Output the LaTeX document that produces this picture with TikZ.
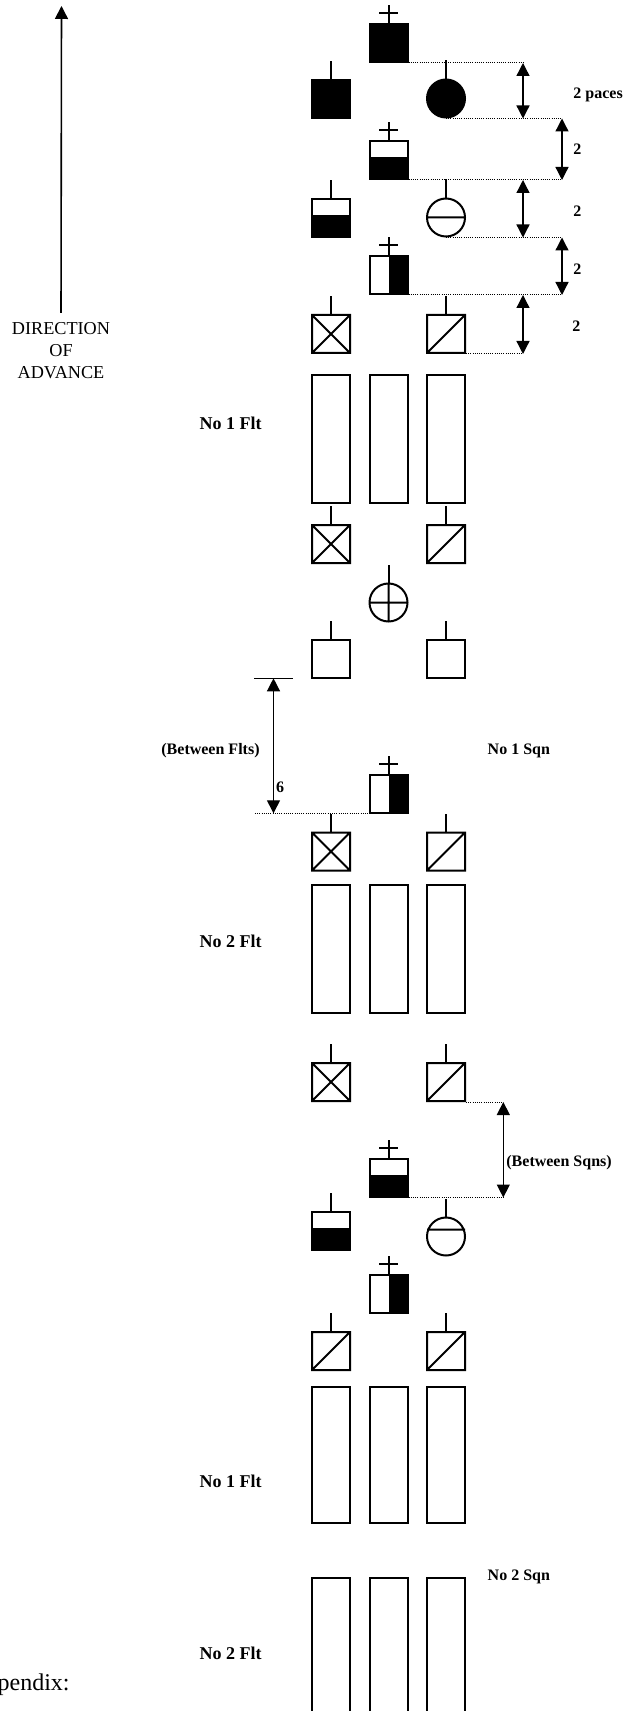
\documentclass[tikz,border=0pt]{standalone}
\usepackage{fontspec}
\setmainfont{Liberation Serif}
\usetikzlibrary{arrows.meta}

% symbols, #1 #2 = centre of the symbol (pixel units)
\newcommand{\symstem}[2]{\draw[sym] (#1,#2-19) -- (#1,#2-38);}
\newcommand{\symflag}[2]{\draw[sym] (#1,#2-19) -- (#1,#2-38) (#1-9.5,#2-30) -- (#1+9.5,#2-30);}
\newcommand{\symplain}[2]{\draw[sym] (#1-19,#2-19) rectangle (#1+19,#2+19);}
\newcommand{\symsolid}[2]{\draw[sym,fill=black] (#1-19,#2-19) rectangle (#1+19,#2+19);}
\newcommand{\symcross}[2]{\draw[sym] (#1-19,#2-19) rectangle (#1+19,#2+19)
  (#1-19,#2-19) -- (#1+19,#2+19) (#1-19,#2+19) -- (#1+19,#2-19);}
\newcommand{\symdiag}[2]{\draw[sym] (#1-19,#2-19) rectangle (#1+19,#2+19)
  (#1-19,#2+19) -- (#1+19,#2-19);}
\newcommand{\symlower}[2]{\fill (#1-19,#2-2.5) rectangle (#1+19,#2+19);
  \draw[sym] (#1-19,#2-19) rectangle (#1+19,#2+19);}
\newcommand{\symright}[2]{\fill (#1,#2-19) rectangle (#1+19,#2+19);
  \draw[sym] (#1-19,#2-19) rectangle (#1+19,#2+19);}
\newcommand{\symdot}[2]{\draw[sym,fill=black] (#1,#2) circle (9.5pt);}
\newcommand{\symbar}[3][0]{\draw[sym] (#2,#3) circle (9.5pt) (#2-19,#3+#1) -- (#2+19,#3+#1);}
\newcommand{\symplus}[2]{\draw[sym] (#1,#2) circle (9.5pt) (#1-19,#2) -- (#1+19,#2) (#1,#2-19) -- (#1,#2+19);}

\begin{document}
\begin{tikzpicture}[x=0.5pt,y=-0.5pt,
  sym/.style={line width=1pt},
  guide/.style={line width=0.5pt,dash pattern=on 0.5pt off 0.6pt},
  dim/.style={line width=0.65pt,<->},
  >={Triangle[length=6.5pt,width=6.5pt]},
  lbl/.style={font=\bfseries\fontsize{8}{9.6}\selectfont,inner sep=0pt,anchor=base west},
  flt/.style={font=\bfseries\fontsize{9}{10.8}\selectfont,inner sep=0pt,anchor=base west}]
\useasboundingbox (0,0) rectangle (623,1711);
\clip (0,0) rectangle (623,1711);

% Direction of advance
\node[align=center,font=\fontsize{9.1}{11}\selectfont,inner sep=0pt,anchor=north] (dir) at (61,322) {DIRECTION\\OF\\ADVANCE};
\coordinate (front) at (61.5,6);
\draw[line width=0.8pt,->,shorten <=4.5pt] (dir.north) -- (front);

% Leading party
\symflag{388.5}{43} \symsolid{388.5}{43}
\symstem{331}{99} \symsolid{331}{99}
\symstem{446}{98.5} \symdot{446}{98.5}
\symflag{388.5}{160} \symlower{388.5}{160}
\symstem{331}{218} \symlower{331}{218}
\symstem{446}{217.5} \symbar{446}{217.5}
\symflag{388.5}{275} \symright{388.5}{275}
\symstem{331}{334} \symcross{331}{334}
\symstem{446}{334} \symdiag{446}{334}

% Distances in paces
\draw[guide] (408.5,63) -- (523,63);
\draw[dim] (523,63) -- (523,118.5);
\draw[guide] (446,118.5) -- (562,118.5);
\node[lbl] (pacesA) at (573,98.3) {2 paces};
\draw[dim] (562,118.5) -- (562,180);
\draw[guide] (408.5,180) -- (562,180);
\node[lbl] (pacesB) at (573,155) {2};
\draw[dim] (523,180) -- (523,237.5);
\draw[guide] (446,237.5) -- (562,237.5);
\node[lbl] (pacesC) at (573,216.7) {2};
\draw[dim] (562,237.5) -- (562,295);
\draw[guide] (408.5,295) -- (562,295);
\node[lbl] (pacesD) at (573,275) {2};
\draw[dim] (523,295) -- (523,354);
\draw[guide] (466,354) -- (523,354);
\node[lbl] (pacesE) at (572,331.7) {2};

% No 1 Sqn, No 1 Flt
\foreach \cx in {331,388.5,446}
  \draw[sym] (\cx-19,375) rectangle (\cx+19,503);
\node[flt] (fltA) at (199.3,429.3) {No 1 Flt};
\symstem{331}{544} \symcross{331}{544}
\symstem{446}{544} \symdiag{446}{544}
\symstem{388.5}{602.5} \symplus{388.5}{602.5}
\symstem{331}{659} \symplain{331}{659}
\symstem{446}{659} \symplain{446}{659}

% Between flights
\draw[line width=0.65pt] (254,678.3) -- (293,678.3);
\draw[dim] (273.5,678.3) -- (273.5,813.3);
\draw[guide] (255,813.3) -- (369,813.3);
\node[lbl] (gapflt) at (161,754.5) {(Between Flts)};
\node[lbl] (six) at (275.7,792.7) {6};
\node[lbl] (sqnA) at (487.3,754.5) {No 1 Sqn};
\symflag{388.5}{794} \symright{388.5}{794}
\symstem{331}{851.5} \symcross{331}{851.5}
\symstem{446}{851.5} \symdiag{446}{851.5}

% No 1 Sqn, No 2 Flt
\foreach \cx in {331,388.5,446}
  \draw[sym] (\cx-19,885) rectangle (\cx+19,1013);
\node[flt] (fltB) at (199.3,947.5) {No 2 Flt};
\symstem{331}{1082} \symcross{331}{1082}
\symstem{446}{1082} \symdiag{446}{1082}

% Between squadrons
\draw[guide] (466,1102) -- (503.3,1102);
\draw[dim] (503.3,1102) -- (503.3,1197.5);
\draw[guide] (408.5,1197.5) -- (503.3,1197.5);
\node[lbl] (gapsqn) at (506,1166) {(Between Sqns)};

% No 2 Sqn, leading party
\symflag{388.5}{1177.7} \symlower{388.5}{1177.7}
\symstem{331}{1230.5} \symlower{331}{1230.5}
\symstem{446}{1236.5} \symbar[-7]{446}{1236.5}
\symflag{388.5}{1293.5} \symright{388.5}{1293.5}
\symstem{331}{1351} \symdiag{331}{1351}
\symstem{446}{1351} \symdiag{446}{1351}

% No 2 Sqn, No 1 Flt
\foreach \cx in {331,388.5,446}
  \draw[sym] (\cx-19,1387) rectangle (\cx+19,1523);
\node[flt] (fltC) at (199.3,1487.3) {No 1 Flt};

% No 2 Sqn, No 2 Flt
\foreach \cx in {331,388.5,446}
  \draw[sym] (\cx-19,1720) -- (\cx-19,1577.7) -- (\cx+19,1577.7) -- (\cx+19,1720);
\node[lbl] (sqnB) at (487.3,1580) {No 2 Sqn};
\node[flt] (fltD) at (199.3,1659.3) {No 2 Flt};

\node[font=\fontsize{12}{14}\selectfont,inner sep=0pt,anchor=base east] (appx) at (70,1690) {Appendix:};
\end{tikzpicture}
\end{document}
